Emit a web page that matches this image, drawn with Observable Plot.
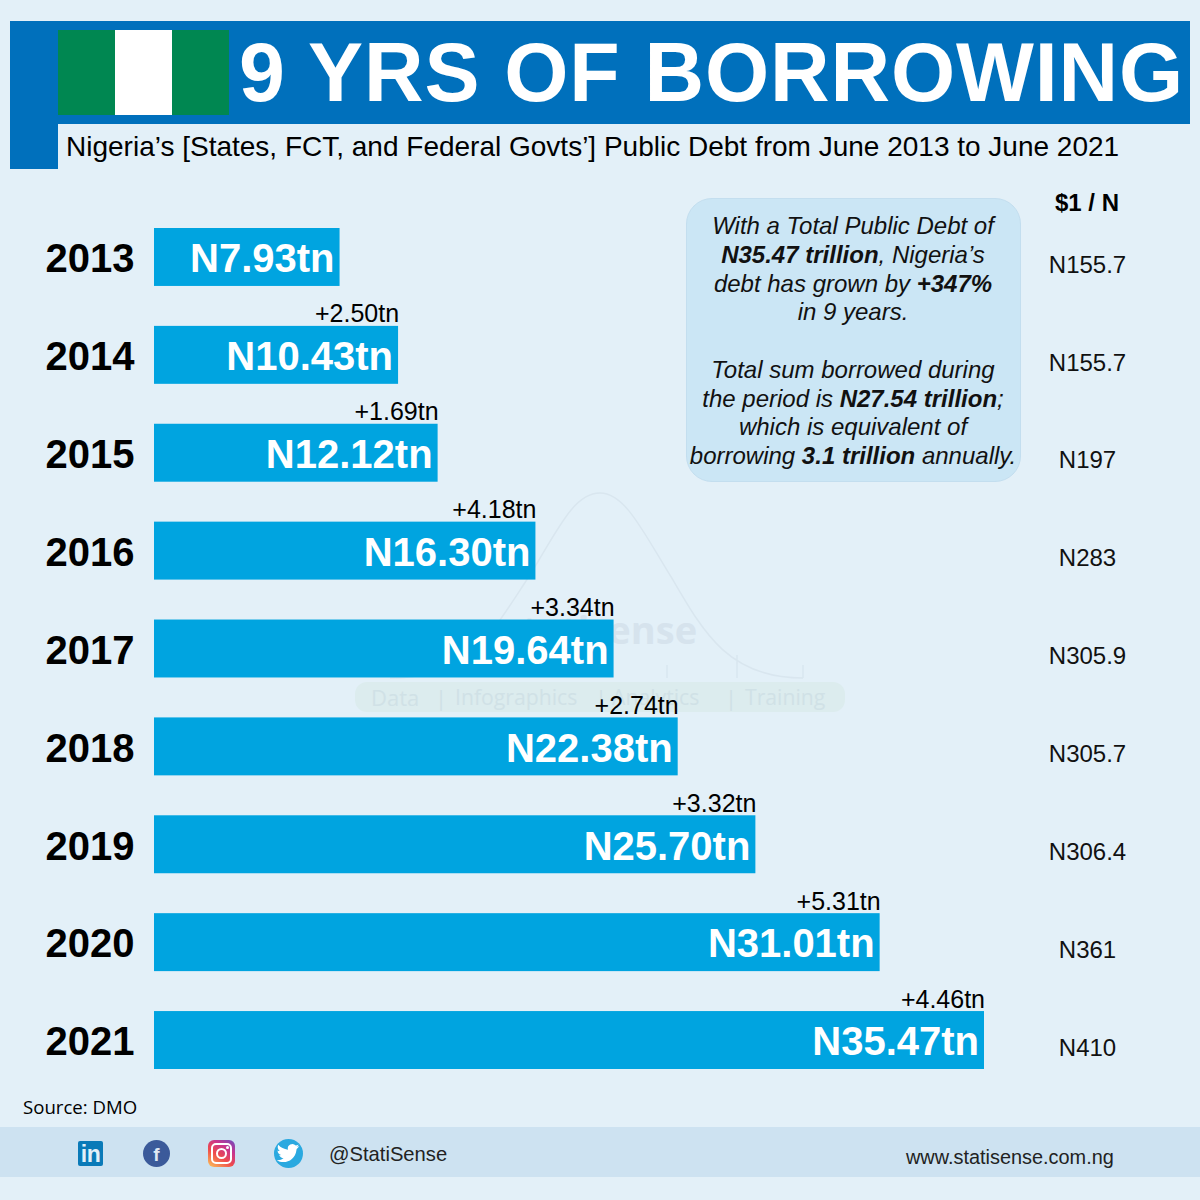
<!DOCTYPE html>
<html>
<head>
<meta charset="utf-8">
<script src="https://cdn.jsdelivr.net/npm/d3@7"></script>
<script src="https://cdn.jsdelivr.net/npm/@observablehq/plot@0.6"></script>
<style>
  html, body { margin: 0; padding: 0; background: #e3f0f8; font-family: "Liberation Sans", Arial, sans-serif; }
  #page { position: relative; width: 1200px; height: 1200px; overflow: hidden; background: #e3f0f8; }
  #page > div { position: absolute; white-space: nowrap; }
  #chart { left: 0; top: 170px; width: 1200px; height: 900px; }
  #callout { left: 686px; top: 198px; width: 335px; height: 284px; box-sizing: border-box; padding-top: 13px; padding-right: 1px;
    background: #cbe6f5; border: 1px solid #c3deef; border-radius: 26px; text-align: center; font-style: italic;
    font-size: 24px; line-height: 28.75px; color: #111; }
  .ic { position: absolute; }
</style>
</head>
<body>
<div id="page">
  <!-- header -->
  <div style="left:10px;top:21px;width:1180px;height:103px;background:#0070bc"></div>
  <div style="left:10px;top:124px;width:48px;height:45px;background:#0070bc"></div>
  <div style="left:58px;top:30px;width:57px;height:85px;background:#008751"></div>
  <div style="left:115px;top:30px;width:57px;height:85px;background:#ffffff"></div>
  <div style="left:172px;top:30px;width:57px;height:85px;background:#008751"></div>
  <div id="title" style="left:239px;top:25px;color:#fff;font-weight:700;font-size:82.5px;line-height:94px;letter-spacing:.9px">9 YRS OF BORROWING</div>
  <div id="subtitle" style="left:66px;top:130px;color:#000;font-size:28px;line-height:34px">Nigeria’s [States, FCT, and Federal Govts’] Public Debt from June 2013 to June 2021</div>

  <!-- watermark -->
  <div style="left:380px;top:485px;width:440px;height:200px;background-repeat:no-repeat;background-image:url(&quot;data:image/svg+xml,%3Csvg xmlns='http://www.w3.org/2000/svg' width='440' height='200'%3E%3Cpath d='M10 193 C90 193 110 150 150 90 C180 40 195 8 220 8 C245 8 262 45 293 95 C325 150 350 193 423 193 M423 193 V180 M357 193 V170 M287 193 V180' fill='none' stroke='%23d9e6ef' stroke-width='1.5'/%3E%3C/svg%3E&quot;)"></div>
  <div style="left:503px;top:604px;color:#d6e3ed;font-weight:700;font-size:38px;line-height:50px;font-family:'Open Sans'">statisense</div>
  <div style="left:355px;top:682px;width:490px;height:30px;background:#dcecee;border-radius:12px"></div>
  <div style="left:371px;top:682px;color:#d0e1e6;font-size:22px;line-height:30px;font-family:'Open Sans'">Data</div>
  <div style="left:435px;top:682px;color:#d0e1e6;font-size:22px;line-height:30px;font-family:'Open Sans'">|</div>
  <div style="left:455px;top:682px;color:#d0e1e6;font-size:21.2px;line-height:30px;font-family:'Open Sans'">Infographics</div>
  <div style="left:595px;top:682px;color:#d0e1e6;font-size:22px;line-height:30px;font-family:'Open Sans'">|</div>
  <div style="left:612px;top:682px;color:#d0e1e6;font-size:21.2px;line-height:30px;font-family:'Open Sans'">Analytics</div>
  <div style="left:725px;top:682px;color:#d0e1e6;font-size:22px;line-height:30px;font-family:'Open Sans'">|</div>
  <div style="left:745px;top:682px;color:#d0e1e6;font-size:21.2px;line-height:30px;font-family:'Open Sans'">Training</div>

  <div id="chart"></div>
  <div id="callout">With a Total Public Debt of<br><b>N35.47 trillion</b>, Nigeria’s<br>debt has grown by <b>+347%</b><br>in 9 years.<br><br>Total sum borrowed during<br>the period is <b>N27.54 trillion</b>;<br>which is equivalent of<br>borrowing <b>3.1 trillion</b> annually.</div>

  <!-- footer -->
  <div style="left:23px;top:1094px;color:#000;font-family:'Open Sans';font-size:18.6px;line-height:26px">Source: DMO</div>
  <div style="left:0;top:1127px;width:1200px;height:50px;background:#cde2f1"></div>

  <div style="left:78px;top:1141px;width:25px;height:25px;background:#0a7ab8;border-radius:2px;color:#e3f0f8;font:700 23px/27px 'Liberation Sans';text-align:center;letter-spacing:-.5px">in</div>
  <div style="left:143px;top:1140px;width:27px;height:27px;background:#3b5a9a;border-radius:50%;color:#dfe8f4;font:700 19px/29px 'Liberation Sans';text-align:center">f</div>
  <div style="left:208px;top:1140px;width:27px;height:27px;border-radius:6px;background:linear-gradient(35deg,#fcc65a 0%,#ef4b4b 40%,#c7348f 70%,#6a4ec1 100%)">
    <div class="ic" style="left:3px;top:3px;width:17px;height:17px;border:2px solid #fff;border-radius:5px"></div>
    <div class="ic" style="left:8px;top:8px;width:7px;height:7px;border:2px solid #fff;border-radius:50%"></div>
    <div class="ic" style="left:18px;top:6px;width:3px;height:3px;background:#fff;border-radius:50%"></div>
  </div>
  <div style="left:274px;top:1139px;width:29px;height:29px;border-radius:50%;background:#2aa9e0 url(&quot;data:image/svg+xml,%3Csvg xmlns='http://www.w3.org/2000/svg' viewBox='0 0 24 24'%3E%3Cpath fill='%23fff' d='M19 7.2c-.5.2-1.1.4-1.7.5.6-.4 1-.9 1.3-1.6-.6.3-1.2.6-1.9.7a3 3 0 0 0-5.1 2.7C9.100 9.400 6.900 8.200 5.400 6.400c-.8 1.400-.4 3.100.9 4-.5 0-1-.1-1.400-.4 0 1.500 1 2.700 2.400 3-.4.100-.9.100-1.300 0 .4 1.200 1.500 2 2.800 2.100-1.300 1-2.900 1.400-4.500 1.200 4.500 2.900 12 1 12.900-6.700 0-.4.100-.5.600-1 .4-.3.800-.8 1.200-1.400z'/%3E%3C/svg%3E&quot;) center/37px 37px no-repeat"></div>
  <div style="left:329px;top:1139px;color:#222;font-size:20.2px;line-height:30px">@StatiSense</div>
  <div style="left:906px;top:1142px;color:#222;font-size:19.9px;line-height:30px">www.statisense.com.ng</div>
</div>

<script>
const years = ["2013","2014","2015","2016","2017","2018","2019","2020","2021"];
const debt = [7.93,10.43,12.12,16.30,19.64,22.38,25.70,31.01,35.47];
const added = [null,2.50,1.69,4.18,3.34,2.74,3.32,5.31,4.46];
const rate = ["N155.7","N155.7","N197","N283","N305.9","N305.7","N306.4","N361","N410"];
const rateHeader = ["$1 / N"];

const rows = years.map((year,i)=>({year,debt:debt[i],added:added[i],rate:rate[i]}));
const font = "Liberation Sans, Arial, sans-serif";

const chart = Plot.plot({
  width: 1200,
  height: 900,
  marginTop: 0, marginBottom: 0, marginLeft: 154, marginRight: 216,
  style: {background: "transparent", fontFamily: font, overflow: "visible"},
  x: {domain: [0,35.47], axis: null},
  y: {type: "band", domain: years, range: [58,899], paddingInner: 0.408, paddingOuter: 0, round: false, axis: null},
  marks: [
    Plot.barX(rows, {x: "debt", y: "year", fill: "#00a4e0"}),
    Plot.axisY({anchor: "left", label: null, tickSize: 0, tickPadding: 20, dy: 2, fontSize: 40, fontWeight: "bold", fill: "#000"}),
    Plot.text(rows, {x: "debt", y: "year", text: d=>`N${d.debt.toFixed(2)}tn`, textAnchor: "end", dx: -5.5, dy: 2, fill: "#fff", fontSize: 40, fontWeight: "bold"}),
    Plot.text(rows.filter(d=>d.added!=null), {x: "debt", y: "year", text: d=>`+${d.added.toFixed(2)}tn`, textAnchor: "end", dx: 0.5, dy: -33, lineAnchor: "bottom", fill: "#000", fontSize: 25}),
    Plot.text(rows, {frameAnchor: "right", y: "year", text: "rate", textAnchor: "middle", dx: 103, dy: 7.5, fill: "#111", fontSize: 24}),
    Plot.text(rateHeader, {frameAnchor: "top-right", text: d=>d, textAnchor: "middle", lineAnchor: "middle", dx: 102.5, dy: 33, fill: "#000", fontSize: 24, fontWeight: "bold"})
  ]
});
document.getElementById("chart").appendChild(chart);
</script>
</body>
</html>
